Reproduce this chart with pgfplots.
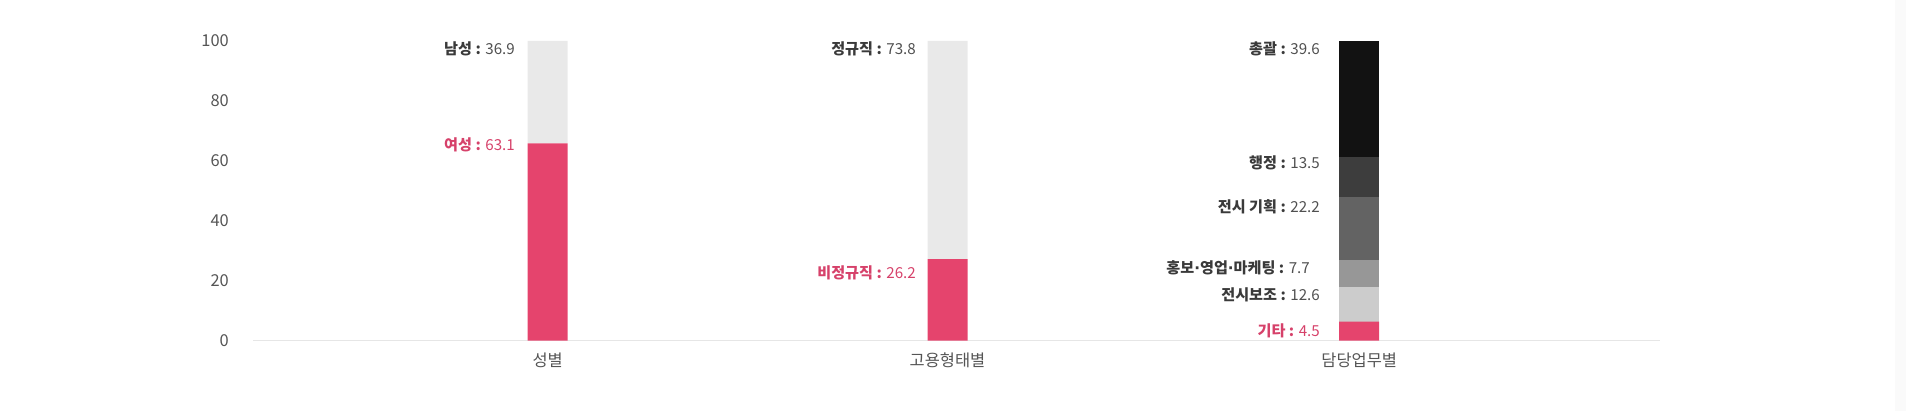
\documentclass[border=0pt]{standalone}
\usepackage{fontspec}
\setmainfont{Noto Sans CJK KR}
\newfontfamily\dvfont{DejaVu Sans}
\usepackage{pgfplots}
\pgfplotsset{compat=1.18}
\definecolor{pinkbar}{HTML}{E5446D}
\definecolor{pinktext}{HTML}{D6416A}
\definecolor{lightbar}{HTML}{E9E9E9}
\definecolor{g1}{HTML}{CCCCCC}
\definecolor{g2}{HTML}{979797}
\definecolor{g3}{HTML}{636363}
\definecolor{g4}{HTML}{3D3D3D}
\definecolor{g5}{HTML}{121212}
\definecolor{axisgray}{HTML}{E6E6E6}
\definecolor{ticktext}{HTML}{555555}
\definecolor{labname}{HTML}{3A3A3A}
\definecolor{labval}{HTML}{505050}
\definecolor{edgegray}{HTML}{FAFAFA}
\newcommand{\md}{{\dvfont\bfseries ·}}
\begin{document}
\begin{tikzpicture}[x=1bp,y=1bp]
\path[use as bounding box] (0,0) rectangle (1906,411);
\fill[edgegray] (1895,0) rectangle (1906,411);
\begin{axis}[
  at={(253bp,70.5bp)}, anchor=south west,
  scale only axis, width=1407bp, height=299.5bp,
  xmin=253, xmax=1660, ymin=0, ymax=100,
  axis x line=bottom, axis y line=left,
  x axis line style={draw=axisgray, line width=1bp, -},
  y axis line style={draw=none},
  major tick length=0pt,
  ytick={0,20,40,60,80,100},
  xtick={547.7,947.5,1359.2},
  xticklabels={성별,고용형태별,담당업무별},
  /pgf/number format/assume math mode=true,
  yticklabel style={font=\fontsize{16.5}{18}\selectfont, text=ticktext, inner sep=0pt, xshift=-24bp},
  xticklabel style={font=\fontsize{16.5}{18}\selectfont, text=ticktext, inner sep=0pt, yshift=-12bp},
  ybar stacked, bar width=40,
  clip=false,
]
\addplot[fill=pinkbar, draw=none] coordinates {(547.7,65.8) (947.5,27.2) (1359.2,6.3)};
\addplot[fill=lightbar, draw=none] coordinates {(547.7,34.2) (947.5,72.8) (1359.2,0)};
\addplot[fill=g1, draw=none] coordinates {(547.7,0) (947.5,0) (1359.2,11.6)};
\addplot[fill=g2, draw=none] coordinates {(547.7,0) (947.5,0) (1359.2,9.0)};
\addplot[fill=g3, draw=none] coordinates {(547.7,0) (947.5,0) (1359.2,21.0)};
\addplot[fill=g4, draw=none] coordinates {(547.7,0) (947.5,0) (1359.2,13.5)};
\addplot[fill=g5, draw=none] coordinates {(547.7,0) (947.5,0) (1359.2,38.6)};
\tikzset{lab/.style={anchor=base east, inner sep=0pt, font=\fontsize{15.2}{17}\selectfont}}
\node[lab] at (axis cs:515,95.4) {\textcolor{labname}{\textbf{남성 :}} \textcolor{labval}{36.9}};
\node[lab, text=pinktext] at (axis cs:515,63.3) {\textbf{여성 :} 63.1};
\node[lab] at (axis cs:916,95.6) {\textcolor{labname}{\textbf{정규직 :}} \textcolor{labval}{73.8}};
\node[lab, text=pinktext] at (axis cs:916,20.8) {\textbf{비정규직 :} 26.2};
\node[lab] at (axis cs:1320,95.4) {\textcolor{labname}{\textbf{총괄 :}} \textcolor{labval}{39.6}};
\node[lab] at (axis cs:1320,57.4) {\textcolor{labname}{\textbf{행정 :}} \textcolor{labval}{13.5}};
\node[lab] at (axis cs:1320,42.8) {\textcolor{labname}{\textbf{전시 기획 :}} \textcolor{labval}{22.2}};
\node[lab] at (axis cs:1310,22.4) {\textcolor{labname}{\textbf{홍보\md 영업\md 마케팅 :}} \textcolor{labval}{7.7}};
\node[lab] at (axis cs:1320,13.5) {\textcolor{labname}{\textbf{전시보조 :}} \textcolor{labval}{12.6}};
\node[lab, text=pinktext] at (axis cs:1320,1.3) {\textbf{기타 :} 4.5};
\end{axis}
\end{tikzpicture}
\end{document}
